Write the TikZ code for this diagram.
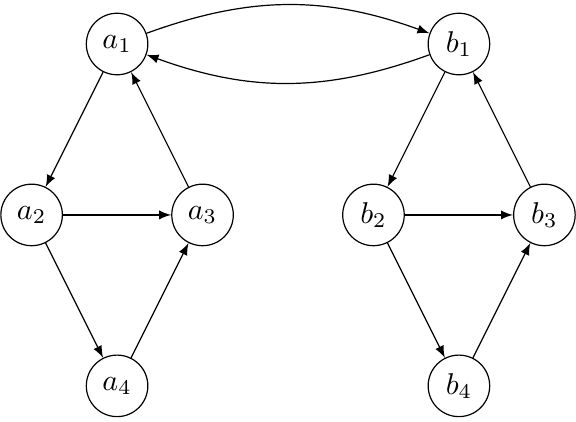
\documentclass[tikz,border=0pt]{standalone}
\usepackage{amsmath, amssymb}
\usetikzlibrary{arrows}

\begin{document}
\begin{tikzpicture}[vertex/.style={circle, draw, minimum size=0.72cm, inner sep=0pt},
        link/.style={-latex}]
        \useasboundingbox (-1.37,-4.42) rectangle (5.37,0.515);
        \node[vertex] (a1) at (0,0) {$a_1$};
        \node[vertex] (a2) at (-1,-2) {$a_2$};
        \node[vertex] (a3) at (1,-2) {$a_3$};
        \node[vertex] (a4) at (0,-4) {$a_4$};
        \node[vertex] (b1) at (4,0) {$b_1$};
        \node[vertex] (b2) at (3,-2) {$b_2$};
        \node[vertex] (b3) at (5,-2) {$b_3$};
        \node[vertex] (b4) at (4,-4) {$b_4$};
        \foreach \g in {a, b}
        {
        \draw[link] (\g1) -- (\g2);
        \draw[link] (\g3) -- (\g1);
        \draw[link] (\g2) -- (\g3);
        \draw[link] (\g2) -- (\g4);
        \draw[link] (\g4) -- (\g3);
        }
        \draw[link] (a1) to[bend left=20] (b1);
        \draw[link] (b1) to[bend left=20] (a1);
    \end{tikzpicture}
\end{document}
